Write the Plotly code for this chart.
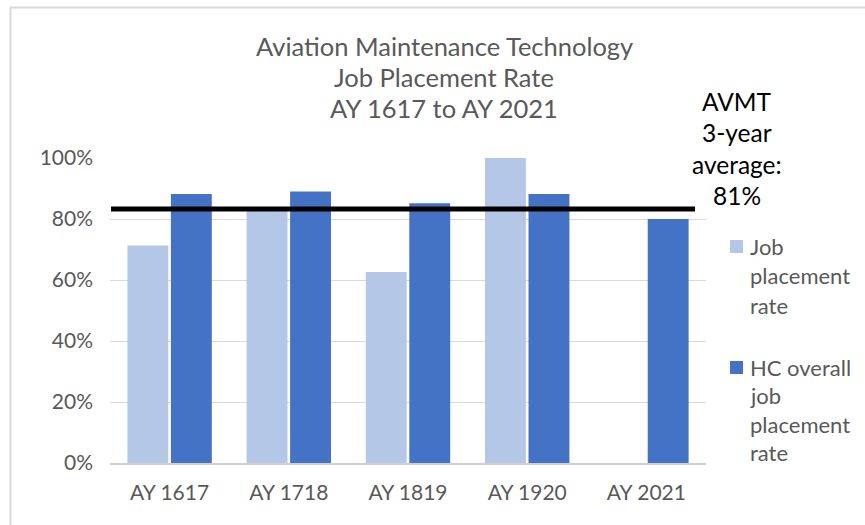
import plotly.graph_objects as go

categories = ["AY 1617", "AY 1718", "AY 1819", "AY 1920", "AY 2021"]
job_placement = [0.713, 0.83, 0.626, 1.00, None]
hc_overall = [0.882, 0.890, 0.852, 0.882, 0.800]
series_names = ["Job placement rate", "HC overall job placement rate"]
title_lines = ["Aviation Maintenance Technology", "Job Placement Rate", "AY 1617 to AY 2021"]
avg_label_lines = ["AVMT", "3-year", "average:", "81%"]
avg_line_level = 0.833
y_ticks = [0, 0.2, 0.4, 0.6, 0.8, 1.0]

LIGHT = "#b4c7e7"
DARK = "#4472c4"
GREY = "#595959"
FONT = "Lato"

L, R, T, B = 110, 159, 158, 62
W, H = 865, 525
pw, ph = W - L - R, H - T - B

def px(x):
    return (x - L) / pw

def py(y):
    return (H - B - y) / ph

fig = go.Figure()
fig.add_trace(go.Bar(x=categories, y=job_placement, name=series_names[0],
                     marker=dict(color=LIGHT, line=dict(width=0))))
fig.add_trace(go.Bar(x=categories, y=hc_overall, name=series_names[1],
                     marker=dict(color=DARK, line=dict(width=0))))

shapes = [
    dict(type="rect", xref="paper", yref="paper", x0=px(10.5), x1=px(W + 20),
         y0=py(H + 20), y1=py(7.5), line=dict(color="#d9d9d9", width=2), layer="below"),
    dict(type="line", xref="paper", yref="y", x0=px(111), x1=px(695),
         y0=avg_line_level, y1=avg_line_level, line=dict(color="black", width=5)),
    dict(type="rect", xref="paper", yref="paper", x0=px(730), x1=px(743),
         y0=py(253), y1=py(240), fillcolor=LIGHT, line=dict(width=0)),
    dict(type="rect", xref="paper", yref="paper", x0=px(730), x1=px(743),
         y0=py(374), y1=py(361), fillcolor=DARK, line=dict(width=0)),
]

annotations = []
for i, t in enumerate(title_lines):
    annotations.append(dict(text=t, xref="paper", yref="paper", x=px(444), y=py(46 + 31 * i),
                            xanchor="center", yanchor="middle", showarrow=False,
                            font=dict(family=FONT, size=25.5, color=GREY)))
for i, t in enumerate(avg_label_lines):
    annotations.append(dict(text=t, xref="paper", yref="paper", x=px(737), y=py(101 + 31.5 * i),
                            xanchor="center", yanchor="middle", showarrow=False,
                            font=dict(family=FONT, size=24.5, color="black")))
leg1 = ["Job", "placement", "rate"]
leg2 = ["HC overall", "job", "placement", "rate"]
for i, t in enumerate(leg1):
    annotations.append(dict(text=t, xref="paper", yref="paper", x=px(748), y=py(246 + 29.5 * i),
                            xanchor="left", yanchor="middle", showarrow=False,
                            font=dict(family=FONT, size=22, color=GREY)))
for i, t in enumerate(leg2):
    annotations.append(dict(text=t, xref="paper", yref="paper", x=px(748), y=py(367 + 28.5 * i),
                            xanchor="left", yanchor="middle", showarrow=False,
                            font=dict(family=FONT, size=22, color=GREY)))

fig.update_layout(
    width=W, height=H,
    margin=dict(l=L, r=R, t=T, b=B, autoexpand=False),
    paper_bgcolor="white", plot_bgcolor="white",
    barmode="group", bargap=0.27, bargroupgap=0.06,
    showlegend=False,
    shapes=shapes, annotations=annotations,
    font=dict(family=FONT, color=GREY),
)
fig.update_yaxes(range=[0, 1], tickvals=y_ticks, tickformat=".0%",
                 showgrid=True, gridcolor="#d9d9d9", gridwidth=1,
                 zeroline=False, showline=False,
                 tickfont=dict(family=FONT, size=21, color=GREY), ticklabelstandoff=16)
fig.update_xaxes(showline=True, linecolor="#d0d0d0", linewidth=1.5, showgrid=False,
                 tickfont=dict(family=FONT, size=21, color=GREY), ticklabelstandoff=10)

fig.write_html("out.html", config={"displayModeBar": False},
               post_script="document.body.style.margin='0';")
